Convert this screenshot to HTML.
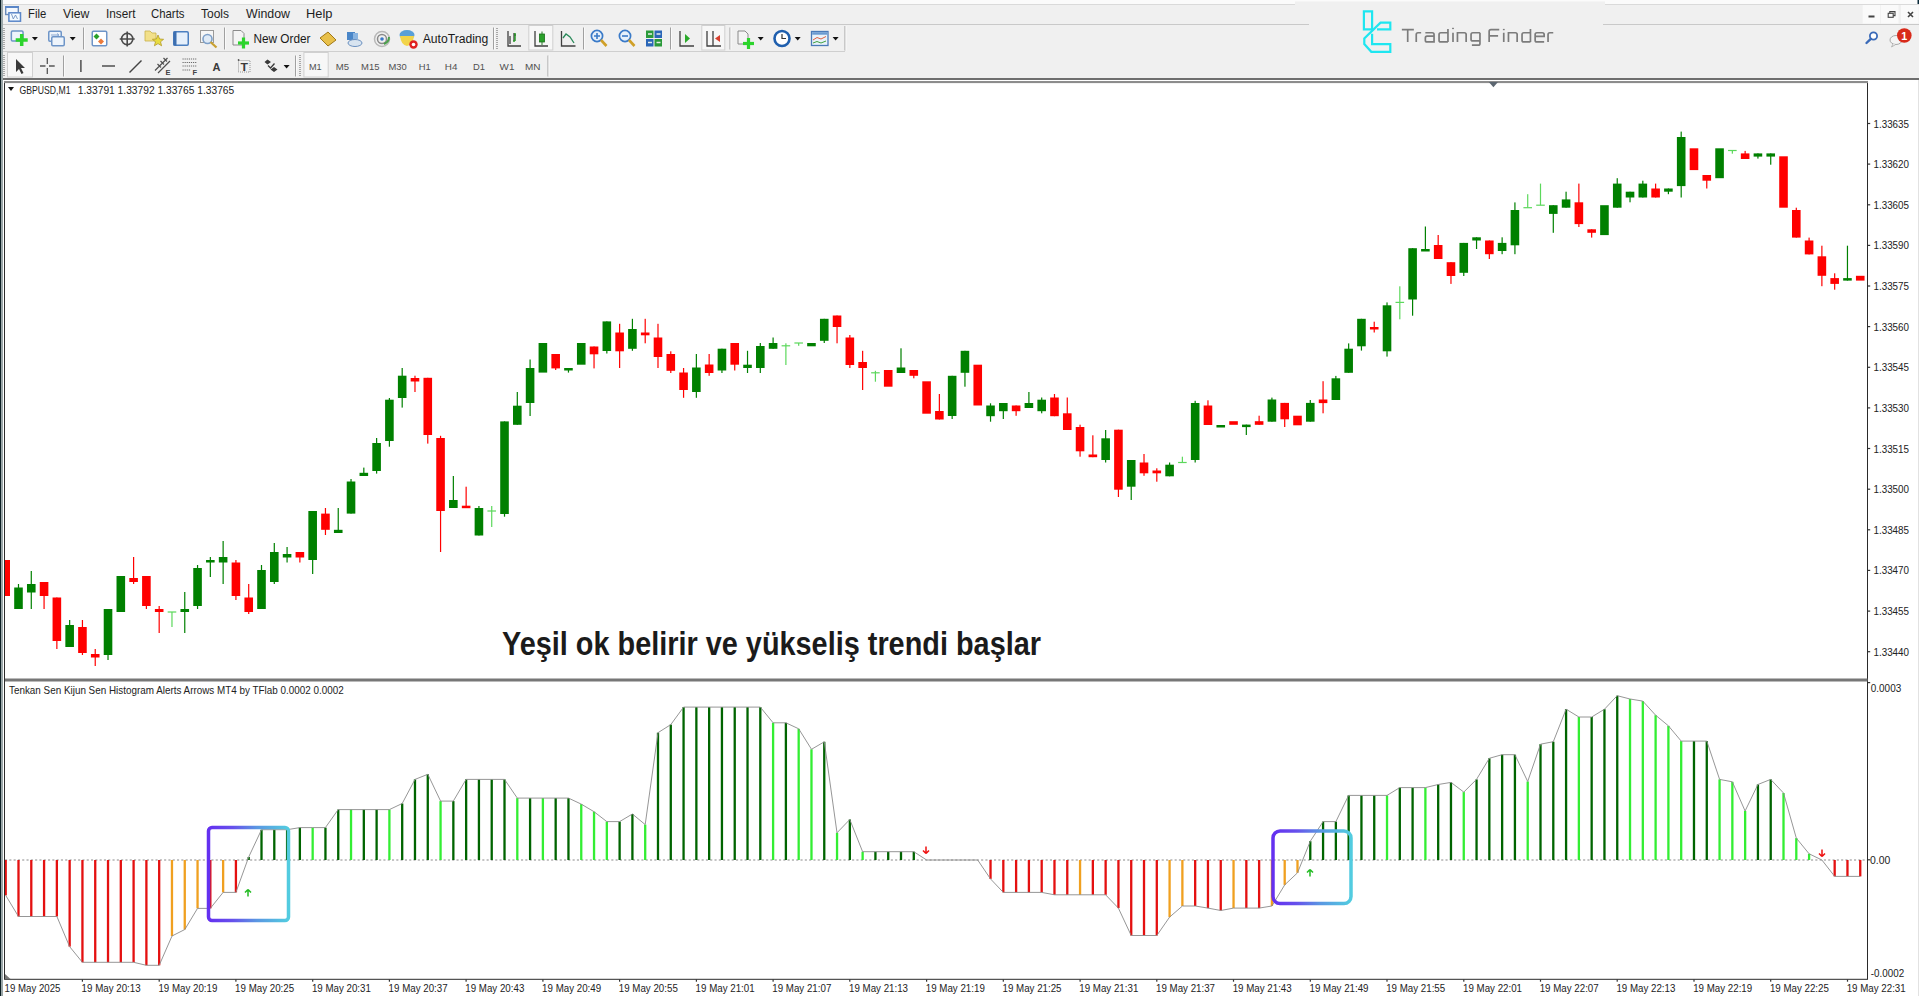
<!DOCTYPE html>
<html><head><meta charset="utf-8">
<style>
html,body{margin:0;padding:0;}
body{width:1919px;height:996px;overflow:hidden;position:relative;background:#f0f0f0;font-family:"Liberation Sans",sans-serif;}
svg text{font-family:"Liberation Sans",sans-serif;}
.ax{font-size:10.4px;fill:#222;}
.big{font-size:32.5px;font-weight:bold;fill:#1b1b1b;}
.abs{position:absolute;}
</style></head><body>
<div class="abs" style="left:0;top:0;width:1919px;height:4px;background:#fbfbfb"></div>
<div class="abs" style="left:0;top:4px;width:1919px;height:1px;background:#dadada"></div>
<div class="abs" style="left:0;top:24px;width:1308.6px;height:1px;background:#c9c9c9"></div>
<div class="abs" style="left:1603px;top:24px;width:316px;height:1px;background:#c9c9c9"></div>
<div class="abs" style="left:0;top:80px;width:1919px;height:916px;background:#ffffff"></div>
<div class="abs" style="left:1917.7px;top:80px;width:1.3px;height:916px;background:#e2e2e2"></div>
<div class="abs" style="left:0;top:51px;width:845px;height:1px;background:#cfcfcf"></div>
<div class="abs" style="left:0;top:78.4px;width:1919px;height:1.6px;background:#6e6e6e"></div>
<svg width="1919" height="80" style="position:absolute;left:0;top:0"><text x="28" y="18.3" font-size="12.6" fill="#1e1e1e" font-weight="normal" textLength="18.2" lengthAdjust="spacingAndGlyphs" style="white-space:pre">File</text>
<text x="63" y="18.3" font-size="12.6" fill="#1e1e1e" font-weight="normal" textLength="26.3" lengthAdjust="spacingAndGlyphs" style="white-space:pre">View</text>
<text x="106" y="18.3" font-size="12.6" fill="#1e1e1e" font-weight="normal" textLength="29.5" lengthAdjust="spacingAndGlyphs" style="white-space:pre">Insert</text>
<text x="151" y="18.3" font-size="12.6" fill="#1e1e1e" font-weight="normal" textLength="33.5" lengthAdjust="spacingAndGlyphs" style="white-space:pre">Charts</text>
<text x="201" y="18.3" font-size="12.6" fill="#1e1e1e" font-weight="normal" textLength="28" lengthAdjust="spacingAndGlyphs" style="white-space:pre">Tools</text>
<text x="246" y="18.3" font-size="12.6" fill="#1e1e1e" font-weight="normal" textLength="44" lengthAdjust="spacingAndGlyphs" style="white-space:pre">Window</text>
<text x="306" y="18.3" font-size="12.6" fill="#1e1e1e" font-weight="normal" textLength="26.5" lengthAdjust="spacingAndGlyphs" style="white-space:pre">Help</text>
<rect x="5.7" y="6.7" width="12.6" height="7.8" fill="#f4f8fd" stroke="#6a8ab8" stroke-width="1.4"/><rect x="5" y="6" width="14" height="2" fill="#5a86c8"/>
<rect x="8.9" y="12.8" width="11.6" height="8.4" fill="#f4fbff" stroke="#5a86c8" stroke-width="1.5"/>
<path d="M11.5 14 L13.3 19 L15.5 15 L17.5 19" stroke="#7090c0" stroke-width="0.9" fill="none"/>
<rect x="3" y="28" width="2" height="1" fill="#a8a8a8"/><rect x="3" y="30" width="2" height="1" fill="#a8a8a8"/><rect x="3" y="32" width="2" height="1" fill="#a8a8a8"/><rect x="3" y="34" width="2" height="1" fill="#a8a8a8"/><rect x="3" y="36" width="2" height="1" fill="#a8a8a8"/><rect x="3" y="38" width="2" height="1" fill="#a8a8a8"/><rect x="3" y="40" width="2" height="1" fill="#a8a8a8"/><rect x="3" y="42" width="2" height="1" fill="#a8a8a8"/><rect x="3" y="44" width="2" height="1" fill="#a8a8a8"/><rect x="3" y="46" width="2" height="1" fill="#a8a8a8"/><rect x="3" y="48" width="2" height="1" fill="#a8a8a8"/>
<rect x="11.35" y="30.95" width="11.7" height="10.1" rx="1.2" fill="#eef4fb" stroke="#6e95c8" stroke-width="1.5"/>
<rect x="19.95" y="34" width="3.5" height="12" fill="#2cd42c"/><rect x="15.7" y="38.25" width="12" height="3.5" fill="#2cd42c"/>
<path d="M31.9 37 L37.9 37 L34.9 40.5 Z" fill="#111"/>
<rect x="48.75" y="31.35" width="12.5" height="9.9" rx="1.2" fill="#eef4fb" stroke="#6e95c8" stroke-width="1.5"/>
<rect x="51.75" y="36.75" width="12.5" height="9.0" rx="1.2" fill="#eef4fb" stroke="#6e95c8" stroke-width="1.5"/>
<path d="M51 35 L58 35 M57 33.5 L59 35 L57 36.5" stroke="#6e95c8" stroke-width="0.8" fill="none"/>
<path d="M69.7 37 L75.7 37 L72.7 40.5 Z" fill="#111"/>
<rect x="83" y="27.5" width="1" height="22.0" fill="#a0a0a0"/><rect x="84" y="27.5" width="1" height="22.0" fill="#fafafa"/>
<rect x="92.25" y="31.35" width="14.5" height="14.4" rx="1.2" fill="#ffffff" stroke="#6e95c8" stroke-width="1.5"/>
<path d="M96.5 33.5 L99.5 36.5 L96.5 39.5 L93.5 36.5 Z" fill="#2aa02a"/><path d="M101 38.5 L104 41.5 L101 44.5 L98 41.5 Z" fill="#ec7a3a"/>
<circle cx="127.2" cy="39" r="5.6" fill="none" stroke="#4a4a4a" stroke-width="1.6"/><path d="M127.2 31.5 V46.5 M119.7 39 H134.7" stroke="#4a4a4a" stroke-width="1.6"/>
<path d="M145 31 H150 L152 33 H156 V41 H145 Z" fill="#f2e08a" stroke="#c9b14a" stroke-width="0.8"/>
<path d="M158 35 L159.6 39 L163.6 39.3 L160.5 41.8 L161.6 45.8 L158 43.6 L154.4 45.8 L155.5 41.8 L152.4 39.3 L156.4 39 Z" fill="#e8dc40" stroke="#b49a2a" stroke-width="0.8"/>
<rect x="173.75" y="31.75" width="14.5" height="13.5" rx="1.2" fill="#e6f0fb" stroke="#4b7fc0" stroke-width="1.5"/>
<rect x="173.5" y="31.5" width="3" height="14" fill="#3d6fb0"/>
<rect x="200.5" y="30.5" width="13" height="12" fill="#f6f6f6" stroke="#9a9a9a" stroke-width="1"/><circle cx="207.5" cy="39" r="4.5" fill="#dfeaf6" stroke="#7ea0c8" stroke-width="1.6"/><path d="M210.5 42 L216.5 47.5" stroke="#c9a030" stroke-width="2.2"/>
<rect x="224" y="27.5" width="1" height="22.0" fill="#a0a0a0"/><rect x="225" y="27.5" width="1" height="22.0" fill="#fafafa"/>
<path d="M233 30.5 H241 L244 33.5 V45 H233 Z" fill="#f4f4f4" stroke="#8a8a8a" stroke-width="1"/>
<rect x="241.9" y="37.5" width="3.2" height="11.0" fill="#2cd42c"/><rect x="238.0" y="41.4" width="11.0" height="3.2" fill="#2cd42c"/>
<text x="253.5" y="42.7" font-size="12.3" fill="#1a1a1a" font-weight="normal" textLength="57" lengthAdjust="spacingAndGlyphs" style="white-space:pre">New Order</text>
<path d="M320 38 L328 32 L336 40 L328 46 Z" fill="#e8c04a" stroke="#a07818" stroke-width="1"/>
<path d="M347 32 H355 V40 H347 Z" fill="#4a86c8"/><ellipse cx="355" cy="43" rx="7" ry="3.5" fill="#d8e4f0" stroke="#6a90c0" stroke-width="1"/><rect x="353" y="33" width="5" height="6" fill="#8ab4e0"/>
<circle cx="382" cy="39" r="7.5" fill="none" stroke="#b8b8b8" stroke-width="1.5"/><circle cx="382" cy="39" r="4.5" fill="none" stroke="#8a8a8a" stroke-width="1.5"/><circle cx="382" cy="39" r="1.8" fill="#3a78c8"/><path d="M384 44 Q389 42 389 37" stroke="#4aa04a" stroke-width="2" fill="none"/>
<ellipse cx="407" cy="35" rx="7.5" ry="5" fill="#5aa0d8"/><path d="M400 36 Q401 45 407 46 Q413 45 414 36 Z" fill="#f2d44a"/><circle cx="413.5" cy="44.5" r="4.2" fill="#e02020"/><circle cx="413.5" cy="44.5" r="1.8" fill="#fff"/>
<text x="422.7" y="42.7" font-size="12.3" fill="#1a1a1a" font-weight="normal" textLength="65.7" lengthAdjust="spacingAndGlyphs" style="white-space:pre">AutoTrading</text>
<rect x="493" y="27.5" width="1" height="22.0" fill="#a0a0a0"/><rect x="494" y="27.5" width="1" height="22.0" fill="#fafafa"/>
<rect x="496" y="28" width="2" height="1" fill="#a8a8a8"/><rect x="496" y="30" width="2" height="1" fill="#a8a8a8"/><rect x="496" y="32" width="2" height="1" fill="#a8a8a8"/><rect x="496" y="34" width="2" height="1" fill="#a8a8a8"/><rect x="496" y="36" width="2" height="1" fill="#a8a8a8"/><rect x="496" y="38" width="2" height="1" fill="#a8a8a8"/><rect x="496" y="40" width="2" height="1" fill="#a8a8a8"/><rect x="496" y="42" width="2" height="1" fill="#a8a8a8"/><rect x="496" y="44" width="2" height="1" fill="#a8a8a8"/><rect x="496" y="46" width="2" height="1" fill="#a8a8a8"/><rect x="496" y="48" width="2" height="1" fill="#a8a8a8"/>
<path d="M508 31 V46 H521 M510 44 V36 M514 41 V33 M514 35 H516" stroke="#404040" stroke-width="1.3" fill="none"/><path d="M515 33 V41 M513 41 H515" stroke="#2a9a2a" stroke-width="1.5" fill="none"/>
<rect x="528.8" y="25.5" width="24.0" height="24.5" fill="#f7f7f7" stroke="#d0d0d0" stroke-width="1"/>
<path d="M535 31 V46 H548" stroke="#404040" stroke-width="1.3" fill="none"/><rect x="539.5" y="34" width="5" height="8" fill="#2aa02a" stroke="#1a701a" stroke-width="0.8"/><path d="M542 31.5 V34 M542 42 V45" stroke="#2a7a2a" stroke-width="1"/>
<path d="M561.5 31 V46 H575.5" stroke="#404040" stroke-width="1.3" fill="none"/><path d="M563 38 L566 34 L570 37 L574 43" stroke="#2a8a5a" stroke-width="1.3" fill="none"/>
<rect x="583" y="27.5" width="1" height="22.0" fill="#a0a0a0"/><rect x="584" y="27.5" width="1" height="22.0" fill="#fafafa"/>
<circle cx="597" cy="36" r="5.6" fill="#e6f0fa" stroke="#3a7ac8" stroke-width="1.7"/><path d="M594 36 H600 M597 33 V39" stroke="#3a7ac8" stroke-width="1.6"/><path d="M601 40 L606.5 46" stroke="#d0a028" stroke-width="2.6"/>
<circle cx="625" cy="36" r="5.6" fill="#e6f0fa" stroke="#3a7ac8" stroke-width="1.7"/><path d="M622 36 H628" stroke="#3a7ac8" stroke-width="1.6"/><path d="M629 40 L634.5 46" stroke="#d0a028" stroke-width="2.6"/>
<rect x="646" y="30.5" width="7.5" height="7.5" fill="#2a9a3a"/><rect x="654.5" y="30.5" width="7.5" height="7.5" fill="#2a66b8"/><rect x="646" y="39" width="7.5" height="7.5" fill="#2a66b8"/><rect x="654.5" y="39" width="7.5" height="7.5" fill="#2a9a3a"/><path d="M648 34 H652 M656.5 34 H660.5 M648 42.5 H652 M656.5 42.5 H660.5" stroke="#e8f0e8" stroke-width="1.5"/>
<rect x="670" y="27.5" width="1" height="22.0" fill="#a0a0a0"/><rect x="671" y="27.5" width="1" height="22.0" fill="#fafafa"/>
<path d="M680 31 V46 H694" stroke="#404040" stroke-width="1.3" fill="none"/><path d="M685 34 L690 38.5 L685 43 Z" fill="#2aaa2a"/>
<rect x="701.8" y="25.5" width="23.0" height="24.5" fill="#f7f7f7" stroke="#d0d0d0" stroke-width="1"/>
<path d="M707 31 V46 H721 M713 31 V46" stroke="#404040" stroke-width="1.3" fill="none"/><path d="M720 35 L715 38.5 L720 42 Z" fill="#d84030"/>
<rect x="729.5" y="27.5" width="1" height="22.0" fill="#a0a0a0"/><rect x="730.5" y="27.5" width="1" height="22.0" fill="#fafafa"/>
<path d="M738 31 H745 L748 34 V44 H738 Z" fill="#f4f4f4" stroke="#8a8a8a" stroke-width="1"/>
<rect x="746.9" y="38.0" width="3.2" height="11.0" fill="#2cd42c"/><rect x="743.0" y="41.9" width="11.0" height="3.2" fill="#2cd42c"/>
<path d="M757.7 37 L763.7 37 L760.7 40.5 Z" fill="#111"/>
<circle cx="782" cy="38.5" r="7.5" fill="#ffffff" stroke="#1f5fae" stroke-width="2.6"/><path d="M782 34 V38.5 H786" stroke="#333" stroke-width="1.2" fill="none"/>
<path d="M794.7 37 L800.7 37 L797.7 40.5 Z" fill="#111"/>
<rect x="811.5" y="31.5" width="16.5" height="14" fill="#e8f2fa" stroke="#4a7ab8" stroke-width="1.3"/><rect x="812.2" y="32.2" width="15" height="2.5" fill="#6a9ad0"/><path d="M813 40 L817 37.5 L821 39 L826 36.5" stroke="#e06040" stroke-width="1" fill="none"/><path d="M813 43 L817 41.5 L821 43 L826 41" stroke="#40a040" stroke-width="1" fill="none"/>
<path d="M832.6 37 L838.6 37 L835.6 40.5 Z" fill="#111"/>
<rect x="844.5" y="26" width="1" height="24.5" fill="#a0a0a0"/><rect x="845.5" y="26" width="1" height="24.5" fill="#fafafa"/>
<rect x="3" y="55" width="2" height="1" fill="#a8a8a8"/><rect x="3" y="57" width="2" height="1" fill="#a8a8a8"/><rect x="3" y="59" width="2" height="1" fill="#a8a8a8"/><rect x="3" y="61" width="2" height="1" fill="#a8a8a8"/><rect x="3" y="63" width="2" height="1" fill="#a8a8a8"/><rect x="3" y="65" width="2" height="1" fill="#a8a8a8"/><rect x="3" y="67" width="2" height="1" fill="#a8a8a8"/><rect x="3" y="69" width="2" height="1" fill="#a8a8a8"/><rect x="3" y="71" width="2" height="1" fill="#a8a8a8"/><rect x="3" y="73" width="2" height="1" fill="#a8a8a8"/><rect x="3" y="75" width="2" height="1" fill="#a8a8a8"/>
<rect x="7.5" y="52.5" width="25" height="24.5" fill="#f7f7f7" stroke="#d0d0d0" stroke-width="1"/>
<path d="M16 59 L16 72 L19 69 L21.5 74 L23.5 73 L21 68 L25 68 Z" fill="#3a3a3a"/>
<path d="M47.3 58 V64 M47.3 68 V74 M40 66 H45.5 M49 66 H54.7" stroke="#555" stroke-width="1.3"/>
<rect x="63" y="55.5" width="1" height="21.0" fill="#a0a0a0"/><rect x="64" y="55.5" width="1" height="21.0" fill="#fafafa"/>
<rect x="80.2" y="60" width="1.4" height="12" fill="#444"/>
<rect x="102" y="65.3" width="13" height="1.4" fill="#444"/>
<path d="M129.5 72.5 L141.5 60.5" stroke="#444" stroke-width="1.4"/>
<path d="M155 70.5 L167.5 58 M158 73 L170 61 M157.5 64 L161 67.5 M160.5 61 L164 64.5 M163.5 58 L167 61.5" stroke="#505050" stroke-width="1.2" fill="none"/>
<text x="165.5" y="75" font-size="7.5" font-weight="bold" fill="#444">E</text>
<path d="M182.5 59 H196.5 M182.5 62.5 H196.5 M182.5 66 H196.5 M182.5 70 H191" stroke="#6a6a6a" stroke-width="1" stroke-dasharray="1.2 0.9" fill="none"/>
<text x="192.5" y="75" font-size="7.5" font-weight="bold" fill="#444">F</text>
<text x="212.6" y="70.8" font-size="11.5" fill="#3a3a3a" font-weight="bold" textLength="8" lengthAdjust="spacingAndGlyphs" style="white-space:pre">A</text>
<rect x="238.5" y="60.5" width="11.5" height="11.5" fill="none" stroke="#8a8a8a" stroke-width="0.9" stroke-dasharray="1 1"/><circle cx="238.6" cy="60" r="0.9" fill="#555"/>
<text x="240.6" y="70.8" font-size="10.5" fill="#3a3a3a" font-weight="bold" textLength="7.5" lengthAdjust="spacingAndGlyphs" style="white-space:pre">T</text>
<path d="M264.5 62 L267.5 59.5 L271 62 L267.5 64.5 Z M270.5 69.5 L274 67 L277.5 69.5 L274 72 Z" fill="#3a3a3a"/><path d="M268 65.5 L270.5 68 L274.5 63.5" stroke="#3a3a3a" stroke-width="1.3" fill="none"/>
<path d="M283.6 65 L289.6 65 L286.6 68.5 Z" fill="#111"/>
<rect x="295" y="55.5" width="1" height="21.0" fill="#a0a0a0"/><rect x="296" y="55.5" width="1" height="21.0" fill="#fafafa"/>
<rect x="299" y="55" width="2" height="1" fill="#a8a8a8"/><rect x="299" y="57" width="2" height="1" fill="#a8a8a8"/><rect x="299" y="59" width="2" height="1" fill="#a8a8a8"/><rect x="299" y="61" width="2" height="1" fill="#a8a8a8"/><rect x="299" y="63" width="2" height="1" fill="#a8a8a8"/><rect x="299" y="65" width="2" height="1" fill="#a8a8a8"/><rect x="299" y="67" width="2" height="1" fill="#a8a8a8"/><rect x="299" y="69" width="2" height="1" fill="#a8a8a8"/><rect x="299" y="71" width="2" height="1" fill="#a8a8a8"/><rect x="299" y="73" width="2" height="1" fill="#a8a8a8"/><rect x="299" y="75" width="2" height="1" fill="#a8a8a8"/>
<rect x="303.9" y="52.5" width="24.30000000000001" height="24.5" fill="#f7f7f7" stroke="#d0d0d0" stroke-width="1"/>
<text x="309" y="69.8" font-size="9.8" fill="#505050" font-weight="normal" textLength="12.7" lengthAdjust="spacingAndGlyphs" style="white-space:pre">M1</text>
<text x="335.7" y="69.8" font-size="9.8" fill="#505050" font-weight="normal" textLength="13.3" lengthAdjust="spacingAndGlyphs" style="white-space:pre">M5</text>
<text x="361" y="69.8" font-size="9.8" fill="#505050" font-weight="normal" textLength="18.4" lengthAdjust="spacingAndGlyphs" style="white-space:pre">M15</text>
<text x="388.5" y="69.8" font-size="9.8" fill="#505050" font-weight="normal" textLength="18.3" lengthAdjust="spacingAndGlyphs" style="white-space:pre">M30</text>
<text x="418.7" y="69.8" font-size="9.8" fill="#505050" font-weight="normal" textLength="12" lengthAdjust="spacingAndGlyphs" style="white-space:pre">H1</text>
<text x="444.8" y="69.8" font-size="9.8" fill="#505050" font-weight="normal" textLength="12.6" lengthAdjust="spacingAndGlyphs" style="white-space:pre">H4</text>
<text x="473" y="69.8" font-size="9.8" fill="#505050" font-weight="normal" textLength="12" lengthAdjust="spacingAndGlyphs" style="white-space:pre">D1</text>
<text x="499.6" y="69.8" font-size="9.8" fill="#505050" font-weight="normal" textLength="14.8" lengthAdjust="spacingAndGlyphs" style="white-space:pre">W1</text>
<text x="525" y="69.8" font-size="9.8" fill="#505050" font-weight="normal" textLength="15.5" lengthAdjust="spacingAndGlyphs" style="white-space:pre">MN</text>
<rect x="547.5" y="55.5" width="1" height="21.0" fill="#a0a0a0"/><rect x="548.5" y="55.5" width="1" height="21.0" fill="#fafafa"/>
<rect x="1862.7" y="5" width="17.5" height="18.5" fill="#fafafa"/>
<rect x="1881" y="5" width="17.5" height="18.5" fill="#fafafa"/>
<rect x="1901" y="5" width="17.5" height="18.5" fill="#fafafa"/>
<rect x="1868.5" y="15.5" width="6" height="2" fill="#444"/>
<rect x="1888.2" y="13.3" width="5" height="4" fill="none" stroke="#444" stroke-width="1.1"/><path d="M1889.8 13.3 V11.6 H1895 V15.6 H1893.2" stroke="#444" stroke-width="1.1" fill="none"/>
<path d="M1908 12 L1913 17 M1913 12 L1908 17" stroke="#444" stroke-width="1.6"/>
<rect x="1917.5" y="0" width="1.5" height="4" fill="#0a2a3a"/>
<circle cx="1873.5" cy="36" r="3.6" fill="#fff" stroke="#3a6ab8" stroke-width="1.8"/><path d="M1870.8 38.8 L1866.5 43" stroke="#3a6ab8" stroke-width="2.4" stroke-linecap="round"/>
<ellipse cx="1896" cy="40" rx="6" ry="4.5" fill="#f4f4f4" stroke="#a8a8a8" stroke-width="1"/><path d="M1893 44 L1891.5 47 L1896 44.3" fill="#f4f4f4" stroke="#a8a8a8" stroke-width="0.8"/>
<circle cx="1904.3" cy="35.5" r="7.3" fill="#d82a1a"/>
<text x="1901.2" y="40.2" font-size="10.5" fill="#ffffff" font-weight="bold" textLength="6" lengthAdjust="spacingAndGlyphs" style="white-space:pre">1</text><rect x="1295" y="1.5" width="310" height="3.6" fill="#f0f0f0"/>
<path d="M1363.9 11.4 H1372.1 V29.3 H1363.9 Z" fill="none" stroke="#1ee6f0" stroke-width="2.2"/>
<path d="M1372.1 33.7 V44.2 H1390.3 V51.8 H1371.3 L1364.3 44 V38.5 L1380.5 22.7 H1390.3 V29.3 H1377" fill="none" stroke="#1ee6f0" stroke-width="2.2" stroke-linejoin="miter"/>
<path d="M1401.85 29.55 H1413.85 M1407.7 29.55 V41.95 M1416.25 41.95 V34.5 Q1416.25 32.75 1418 32.75 H1421.15 M1425.35 32.75 H1432.3 Q1434.05 32.75 1434.05 34.5 V41.95 H1427.1 Q1425.35 41.95 1425.35 40.2 V37.9 Q1425.35 36.15 1427.1 36.15 H1434.05 M1447.95 32.75 H1440.8 Q1439.05 32.75 1439.05 34.5 V40.2 Q1439.05 41.95 1440.8 41.95 H1447.95 M1447.95 29.05 V41.95 M1453 32.75 V41.95 M1457.45 41.95 V32.75 H1464.4 Q1466.15 32.75 1466.15 34.5 V41.95 M1479.95 32.75 H1472.8 Q1471.05 32.75 1471.05 34.5 V39.2 Q1471.05 40.95 1472.8 40.95 H1479.95 M1479.95 32.75 V43.4 Q1479.95 45.15 1478.2 45.15 H1471.9 M1489.15 41.95 V31.3 Q1489.15 29.55 1490.9 29.55 H1499.25 M1489.15 35.85 H1498.1 M1503.75 32.75 V41.95 M1508.45 41.95 V32.75 H1515.4 Q1517.15 32.75 1517.15 34.5 V41.95 M1530.45 32.75 H1523.8 Q1522.05 32.75 1522.05 34.5 V40.2 Q1522.05 41.95 1523.8 41.95 H1530.45 M1530.45 29.05 V41.95 M1544.15 41.95 H1536.9 Q1535.15 41.95 1535.15 40.2 V34.5 Q1535.15 32.75 1536.9 32.75 H1542.4 Q1544.15 32.75 1544.15 34.5 V36.4 H1535.15 M1548.05 41.95 V34.5 Q1548.05 32.75 1549.8 32.75 H1553.25" fill="none" stroke="#7c7c7c" stroke-width="1.7"/>
<rect x="1452.1" y="27.8" width="1.8" height="1.3" fill="#7c7c7c"/><rect x="1502.9" y="28.9" width="1.8" height="1.3" fill="#7c7c7c"/></svg>
<svg width="1919" height="996" viewBox="0 0 1919 996" style="position:absolute;left:0;top:0">
<defs>
<linearGradient id="bx1" x1="0" y1="0" x2="1" y2="0">
<stop offset="0" stop-color="#6430f0"/><stop offset="0.3" stop-color="#6650ec"/><stop offset="0.6" stop-color="#5a96e2"/><stop offset="1" stop-color="#52cce0"/>
</linearGradient>
<clipPath id="cmain"><rect x="5" y="83" width="1862" height="595.5"/></clipPath>
<clipPath id="cind"><rect x="5" y="681.6" width="1862" height="297"/></clipPath>
</defs>
<!-- chart frame -->
<rect x="4.5" y="82" width="1863" height="897.3" fill="#fff" stroke="#2a2a2a" stroke-width="1"/>
<rect x="4" y="81.2" width="1864" height="1.9" fill="#8c8c8c"/>
<rect x="5" y="678.5" width="1862.5" height="3" fill="#777777"/>
<path d="M1488.8 82 L1498 82 L1493.4 87.3 Z" fill="#5c6670"/>
<path d="M5 974 L5 979 L10.5 979 Z" fill="#777"/>
<rect x="1868" y="122.9" width="2.2" height="1.2" fill="#333"/>
<text x="1873.5" y="127.5" class="ax" textLength="35.5" lengthAdjust="spacingAndGlyphs">1.33635</text>
<rect x="1868" y="163.5" width="2.2" height="1.2" fill="#333"/>
<text x="1873.5" y="168.1" class="ax" textLength="35.5" lengthAdjust="spacingAndGlyphs">1.33620</text>
<rect x="1868" y="204.2" width="2.2" height="1.2" fill="#333"/>
<text x="1873.5" y="208.8" class="ax" textLength="35.5" lengthAdjust="spacingAndGlyphs">1.33605</text>
<rect x="1868" y="244.8" width="2.2" height="1.2" fill="#333"/>
<text x="1873.5" y="249.4" class="ax" textLength="35.5" lengthAdjust="spacingAndGlyphs">1.33590</text>
<rect x="1868" y="285.4" width="2.2" height="1.2" fill="#333"/>
<text x="1873.5" y="290.0" class="ax" textLength="35.5" lengthAdjust="spacingAndGlyphs">1.33575</text>
<rect x="1868" y="326.0" width="2.2" height="1.2" fill="#333"/>
<text x="1873.5" y="330.6" class="ax" textLength="35.5" lengthAdjust="spacingAndGlyphs">1.33560</text>
<rect x="1868" y="366.7" width="2.2" height="1.2" fill="#333"/>
<text x="1873.5" y="371.3" class="ax" textLength="35.5" lengthAdjust="spacingAndGlyphs">1.33545</text>
<rect x="1868" y="407.3" width="2.2" height="1.2" fill="#333"/>
<text x="1873.5" y="411.9" class="ax" textLength="35.5" lengthAdjust="spacingAndGlyphs">1.33530</text>
<rect x="1868" y="447.9" width="2.2" height="1.2" fill="#333"/>
<text x="1873.5" y="452.5" class="ax" textLength="35.5" lengthAdjust="spacingAndGlyphs">1.33515</text>
<rect x="1868" y="488.6" width="2.2" height="1.2" fill="#333"/>
<text x="1873.5" y="493.2" class="ax" textLength="35.5" lengthAdjust="spacingAndGlyphs">1.33500</text>
<rect x="1868" y="529.2" width="2.2" height="1.2" fill="#333"/>
<text x="1873.5" y="533.8" class="ax" textLength="35.5" lengthAdjust="spacingAndGlyphs">1.33485</text>
<rect x="1868" y="569.8" width="2.2" height="1.2" fill="#333"/>
<text x="1873.5" y="574.4" class="ax" textLength="35.5" lengthAdjust="spacingAndGlyphs">1.33470</text>
<rect x="1868" y="610.5" width="2.2" height="1.2" fill="#333"/>
<text x="1873.5" y="615.1" class="ax" textLength="35.5" lengthAdjust="spacingAndGlyphs">1.33455</text>
<rect x="1868" y="651.1" width="2.2" height="1.2" fill="#333"/>
<text x="1873.5" y="655.7" class="ax" textLength="35.5" lengthAdjust="spacingAndGlyphs">1.33440</text>
<text x="4.6" y="991.8" class="ax" textLength="55.8" lengthAdjust="spacingAndGlyphs">19 May 2025</text>
<rect x="81.8" y="979.5" width="1.2" height="2.2" fill="#333"/>
<text x="81.6" y="991.8" class="ax" textLength="59" lengthAdjust="spacingAndGlyphs">19 May 20:13</text>
<rect x="158.6" y="979.5" width="1.2" height="2.2" fill="#333"/>
<text x="158.4" y="991.8" class="ax" textLength="59" lengthAdjust="spacingAndGlyphs">19 May 20:19</text>
<rect x="235.3" y="979.5" width="1.2" height="2.2" fill="#333"/>
<text x="235.1" y="991.8" class="ax" textLength="59" lengthAdjust="spacingAndGlyphs">19 May 20:25</text>
<rect x="312.1" y="979.5" width="1.2" height="2.2" fill="#333"/>
<text x="311.9" y="991.8" class="ax" textLength="59" lengthAdjust="spacingAndGlyphs">19 May 20:31</text>
<rect x="388.8" y="979.5" width="1.2" height="2.2" fill="#333"/>
<text x="388.6" y="991.8" class="ax" textLength="59" lengthAdjust="spacingAndGlyphs">19 May 20:37</text>
<rect x="465.5" y="979.5" width="1.2" height="2.2" fill="#333"/>
<text x="465.3" y="991.8" class="ax" textLength="59" lengthAdjust="spacingAndGlyphs">19 May 20:43</text>
<rect x="542.3" y="979.5" width="1.2" height="2.2" fill="#333"/>
<text x="542.1" y="991.8" class="ax" textLength="59" lengthAdjust="spacingAndGlyphs">19 May 20:49</text>
<rect x="619.0" y="979.5" width="1.2" height="2.2" fill="#333"/>
<text x="618.8" y="991.8" class="ax" textLength="59" lengthAdjust="spacingAndGlyphs">19 May 20:55</text>
<rect x="695.8" y="979.5" width="1.2" height="2.2" fill="#333"/>
<text x="695.6" y="991.8" class="ax" textLength="59" lengthAdjust="spacingAndGlyphs">19 May 21:01</text>
<rect x="772.5" y="979.5" width="1.2" height="2.2" fill="#333"/>
<text x="772.3" y="991.8" class="ax" textLength="59" lengthAdjust="spacingAndGlyphs">19 May 21:07</text>
<rect x="849.2" y="979.5" width="1.2" height="2.2" fill="#333"/>
<text x="849.0" y="991.8" class="ax" textLength="59" lengthAdjust="spacingAndGlyphs">19 May 21:13</text>
<rect x="926.0" y="979.5" width="1.2" height="2.2" fill="#333"/>
<text x="925.8" y="991.8" class="ax" textLength="59" lengthAdjust="spacingAndGlyphs">19 May 21:19</text>
<rect x="1002.7" y="979.5" width="1.2" height="2.2" fill="#333"/>
<text x="1002.5" y="991.8" class="ax" textLength="59" lengthAdjust="spacingAndGlyphs">19 May 21:25</text>
<rect x="1079.5" y="979.5" width="1.2" height="2.2" fill="#333"/>
<text x="1079.3" y="991.8" class="ax" textLength="59" lengthAdjust="spacingAndGlyphs">19 May 21:31</text>
<rect x="1156.2" y="979.5" width="1.2" height="2.2" fill="#333"/>
<text x="1156.0" y="991.8" class="ax" textLength="59" lengthAdjust="spacingAndGlyphs">19 May 21:37</text>
<rect x="1232.9" y="979.5" width="1.2" height="2.2" fill="#333"/>
<text x="1232.7" y="991.8" class="ax" textLength="59" lengthAdjust="spacingAndGlyphs">19 May 21:43</text>
<rect x="1309.7" y="979.5" width="1.2" height="2.2" fill="#333"/>
<text x="1309.5" y="991.8" class="ax" textLength="59" lengthAdjust="spacingAndGlyphs">19 May 21:49</text>
<rect x="1386.4" y="979.5" width="1.2" height="2.2" fill="#333"/>
<text x="1386.2" y="991.8" class="ax" textLength="59" lengthAdjust="spacingAndGlyphs">19 May 21:55</text>
<rect x="1463.2" y="979.5" width="1.2" height="2.2" fill="#333"/>
<text x="1463.0" y="991.8" class="ax" textLength="59" lengthAdjust="spacingAndGlyphs">19 May 22:01</text>
<rect x="1539.9" y="979.5" width="1.2" height="2.2" fill="#333"/>
<text x="1539.7" y="991.8" class="ax" textLength="59" lengthAdjust="spacingAndGlyphs">19 May 22:07</text>
<rect x="1616.6" y="979.5" width="1.2" height="2.2" fill="#333"/>
<text x="1616.4" y="991.8" class="ax" textLength="59" lengthAdjust="spacingAndGlyphs">19 May 22:13</text>
<rect x="1693.4" y="979.5" width="1.2" height="2.2" fill="#333"/>
<text x="1693.2" y="991.8" class="ax" textLength="59" lengthAdjust="spacingAndGlyphs">19 May 22:19</text>
<rect x="1770.1" y="979.5" width="1.2" height="2.2" fill="#333"/>
<text x="1769.9" y="991.8" class="ax" textLength="59" lengthAdjust="spacingAndGlyphs">19 May 22:25</text>
<rect x="1846.9" y="979.5" width="1.2" height="2.2" fill="#333"/>
<text x="1846.7" y="991.8" class="ax" textLength="59" lengthAdjust="spacingAndGlyphs">19 May 22:31</text>
<text x="1870.8" y="692" class="ax" textLength="30.4" lengthAdjust="spacingAndGlyphs">0.0003</text>
<text x="1870" y="863.7" class="ax" textLength="20.3" lengthAdjust="spacingAndGlyphs">0.00</text>
<text x="1870.8" y="976.5" class="ax" textLength="33.3" lengthAdjust="spacingAndGlyphs">-0.0002</text>
<rect x="1868" y="859.2" width="2.2" height="1.2" fill="#333"/>
<rect x="1868" y="682" width="2.2" height="1.2" fill="#333"/>
<!-- candles -->
<g clip-path="url(#cmain)"><rect x="1.40" y="560.0" width="8.6" height="36.0" fill="#ff0000"/>
<rect x="17.89" y="584.0" width="1.2" height="25.0" fill="#008000"/>
<rect x="14.19" y="587.5" width="8.6" height="21.5" fill="#008000"/>
<rect x="30.68" y="571.0" width="1.2" height="38.0" fill="#008000"/>
<rect x="26.98" y="584.0" width="8.6" height="8.5" fill="#008000"/>
<rect x="43.47" y="582.0" width="1.2" height="27.0" fill="#ff0000"/>
<rect x="39.77" y="582.0" width="8.6" height="14.0" fill="#ff0000"/>
<rect x="56.26" y="597.5" width="1.2" height="51.5" fill="#ff0000"/>
<rect x="52.56" y="597.5" width="8.6" height="43.5" fill="#ff0000"/>
<rect x="69.05" y="620.0" width="1.2" height="27.0" fill="#008000"/>
<rect x="65.35" y="625.0" width="8.6" height="22.0" fill="#008000"/>
<rect x="81.84" y="620.0" width="1.2" height="35.0" fill="#ff0000"/>
<rect x="78.14" y="627.0" width="8.6" height="26.0" fill="#ff0000"/>
<rect x="94.63" y="649.0" width="1.2" height="17.0" fill="#ff0000"/>
<rect x="90.93" y="654.0" width="8.6" height="3.5" fill="#ff0000"/>
<rect x="107.42" y="609.0" width="1.2" height="51.0" fill="#008000"/>
<rect x="103.72" y="609.0" width="8.6" height="46.0" fill="#008000"/>
<rect x="116.51" y="576.0" width="8.6" height="36.0" fill="#008000"/>
<rect x="133.00" y="557.0" width="1.2" height="27.0" fill="#ff0000"/>
<rect x="129.30" y="578.0" width="8.6" height="4.0" fill="#ff0000"/>
<rect x="145.79" y="576.0" width="1.2" height="33.0" fill="#ff0000"/>
<rect x="142.09" y="576.0" width="8.6" height="30.0" fill="#ff0000"/>
<rect x="158.58" y="606.0" width="1.2" height="27.0" fill="#ff0000"/>
<rect x="154.88" y="609.0" width="8.6" height="3.0" fill="#ff0000"/>
<rect x="171.37" y="612.0" width="1.2" height="15.0" fill="#5cd85c"/>
<rect x="167.67" y="611.4" width="8.6" height="1.2" fill="#5cd85c"/>
<rect x="184.16" y="592.0" width="1.2" height="41.0" fill="#008000"/>
<rect x="180.46" y="609.0" width="8.6" height="3.0" fill="#008000"/>
<rect x="196.95" y="565.0" width="1.2" height="44.0" fill="#008000"/>
<rect x="193.25" y="568.0" width="8.6" height="38.0" fill="#008000"/>
<rect x="209.74" y="557.0" width="1.2" height="20.0" fill="#008000"/>
<rect x="206.04" y="560.0" width="8.6" height="2.5" fill="#008000"/>
<rect x="222.53" y="541.0" width="1.2" height="43.0" fill="#008000"/>
<rect x="218.83" y="557.0" width="8.6" height="5.5" fill="#008000"/>
<rect x="235.32" y="560.0" width="1.2" height="40.0" fill="#ff0000"/>
<rect x="231.62" y="562.5" width="8.6" height="33.5" fill="#ff0000"/>
<rect x="248.11" y="584.0" width="1.2" height="30.0" fill="#ff0000"/>
<rect x="244.41" y="597.5" width="8.6" height="14.5" fill="#ff0000"/>
<rect x="260.90" y="565.0" width="1.2" height="44.0" fill="#008000"/>
<rect x="257.20" y="570.0" width="8.6" height="39.0" fill="#008000"/>
<rect x="273.69" y="543.0" width="1.2" height="41.0" fill="#008000"/>
<rect x="269.99" y="552.0" width="8.6" height="30.0" fill="#008000"/>
<rect x="286.48" y="547.0" width="1.2" height="15.5" fill="#008000"/>
<rect x="282.78" y="554.0" width="8.6" height="3.5" fill="#008000"/>
<rect x="299.27" y="552.0" width="1.2" height="10.5" fill="#ff0000"/>
<rect x="295.57" y="552.0" width="8.6" height="5.5" fill="#ff0000"/>
<rect x="312.06" y="511.0" width="1.2" height="63.0" fill="#008000"/>
<rect x="308.36" y="511.0" width="8.6" height="49.0" fill="#008000"/>
<rect x="324.85" y="508.0" width="1.2" height="27.0" fill="#ff0000"/>
<rect x="321.15" y="513.6" width="8.6" height="16.2" fill="#ff0000"/>
<rect x="337.64" y="508.0" width="1.2" height="25.0" fill="#008000"/>
<rect x="333.94" y="529.8" width="8.6" height="3.2" fill="#008000"/>
<rect x="350.43" y="479.0" width="1.2" height="34.6" fill="#008000"/>
<rect x="346.73" y="481.5" width="8.6" height="32.1" fill="#008000"/>
<rect x="363.22" y="467.6" width="1.2" height="8.4" fill="#008000"/>
<rect x="359.52" y="472.8" width="8.6" height="3.2" fill="#008000"/>
<rect x="376.01" y="438.0" width="1.2" height="35.6" fill="#008000"/>
<rect x="372.31" y="443.0" width="8.6" height="28.0" fill="#008000"/>
<rect x="388.80" y="398.0" width="1.2" height="48.7" fill="#008000"/>
<rect x="385.10" y="399.7" width="8.6" height="41.3" fill="#008000"/>
<rect x="401.59" y="368.0" width="1.2" height="39.6" fill="#008000"/>
<rect x="397.89" y="375.7" width="8.6" height="22.3" fill="#008000"/>
<rect x="414.38" y="375.7" width="1.2" height="16.3" fill="#ff0000"/>
<rect x="410.68" y="378.0" width="8.6" height="3.5" fill="#ff0000"/>
<rect x="427.17" y="377.8" width="1.2" height="65.8" fill="#ff0000"/>
<rect x="423.47" y="377.8" width="8.6" height="57.2" fill="#ff0000"/>
<rect x="439.96" y="435.8" width="1.2" height="116.2" fill="#ff0000"/>
<rect x="436.26" y="438.0" width="8.6" height="73.0" fill="#ff0000"/>
<rect x="452.75" y="476.0" width="1.2" height="32.0" fill="#008000"/>
<rect x="449.05" y="500.0" width="8.6" height="8.0" fill="#008000"/>
<rect x="465.54" y="486.7" width="1.2" height="21.3" fill="#ff0000"/>
<rect x="461.84" y="505.7" width="8.6" height="2.5" fill="#ff0000"/>
<rect x="478.33" y="506.0" width="1.2" height="29.5" fill="#008000"/>
<rect x="474.63" y="508.0" width="8.6" height="27.5" fill="#008000"/>
<rect x="491.12" y="506.0" width="1.2" height="21.0" fill="#5cd85c"/>
<rect x="487.42" y="510.4" width="8.6" height="1.2" fill="#5cd85c"/>
<rect x="503.91" y="421.4" width="1.2" height="95.3" fill="#008000"/>
<rect x="500.21" y="421.4" width="8.6" height="92.6" fill="#008000"/>
<rect x="516.70" y="392.0" width="1.2" height="32.8" fill="#008000"/>
<rect x="513.00" y="405.7" width="8.6" height="19.1" fill="#008000"/>
<rect x="529.49" y="359.5" width="1.2" height="56.5" fill="#008000"/>
<rect x="525.79" y="368.0" width="8.6" height="35.0" fill="#008000"/>
<rect x="538.58" y="343.0" width="8.6" height="29.6" fill="#008000"/>
<rect x="555.07" y="354.0" width="1.2" height="16.0" fill="#ff0000"/>
<rect x="551.37" y="354.0" width="8.6" height="14.4" fill="#ff0000"/>
<rect x="567.86" y="368.0" width="1.2" height="4.6" fill="#008000"/>
<rect x="564.16" y="368.0" width="8.6" height="2.5" fill="#008000"/>
<rect x="576.95" y="343.0" width="8.6" height="21.7" fill="#008000"/>
<rect x="593.44" y="346.5" width="1.2" height="21.9" fill="#ff0000"/>
<rect x="589.74" y="346.5" width="8.6" height="7.8" fill="#ff0000"/>
<rect x="606.23" y="321.4" width="1.2" height="32.1" fill="#008000"/>
<rect x="602.53" y="321.4" width="8.6" height="29.6" fill="#008000"/>
<rect x="619.02" y="323.8" width="1.2" height="44.2" fill="#ff0000"/>
<rect x="615.32" y="332.5" width="8.6" height="18.8" fill="#ff0000"/>
<rect x="631.81" y="318.8" width="1.2" height="32.0" fill="#008000"/>
<rect x="628.11" y="329.0" width="8.6" height="19.8" fill="#008000"/>
<rect x="644.60" y="318.8" width="1.2" height="24.5" fill="#ff0000"/>
<rect x="640.90" y="332.5" width="8.6" height="2.8" fill="#ff0000"/>
<rect x="657.39" y="323.8" width="1.2" height="44.2" fill="#ff0000"/>
<rect x="653.69" y="337.5" width="8.6" height="19.5" fill="#ff0000"/>
<rect x="670.18" y="351.3" width="1.2" height="21.7" fill="#ff0000"/>
<rect x="666.48" y="354.0" width="8.6" height="16.8" fill="#ff0000"/>
<rect x="682.97" y="368.0" width="1.2" height="29.8" fill="#ff0000"/>
<rect x="679.27" y="372.5" width="8.6" height="17.5" fill="#ff0000"/>
<rect x="695.76" y="354.0" width="1.2" height="43.8" fill="#008000"/>
<rect x="692.06" y="367.5" width="8.6" height="24.5" fill="#008000"/>
<rect x="708.55" y="354.0" width="1.2" height="21.8" fill="#ff0000"/>
<rect x="704.85" y="364.5" width="8.6" height="8.5" fill="#ff0000"/>
<rect x="721.34" y="348.7" width="1.2" height="24.3" fill="#008000"/>
<rect x="717.64" y="348.7" width="8.6" height="21.8" fill="#008000"/>
<rect x="734.13" y="343.0" width="1.2" height="27.5" fill="#ff0000"/>
<rect x="730.43" y="343.0" width="8.6" height="21.7" fill="#ff0000"/>
<rect x="746.92" y="350.8" width="1.2" height="22.2" fill="#008000"/>
<rect x="743.22" y="364.7" width="8.6" height="3.3" fill="#008000"/>
<rect x="759.71" y="343.0" width="1.2" height="30.0" fill="#008000"/>
<rect x="756.01" y="346.0" width="8.6" height="22.0" fill="#008000"/>
<rect x="772.50" y="337.5" width="1.2" height="11.3" fill="#008000"/>
<rect x="768.80" y="343.0" width="8.6" height="5.8" fill="#008000"/>
<rect x="785.29" y="343.3" width="1.2" height="21.7" fill="#5cd85c"/>
<rect x="781.59" y="345.2" width="8.6" height="1.2" fill="#5cd85c"/>
<rect x="798.08" y="343.0" width="1.2" height="2.8" fill="#5cd85c"/>
<rect x="794.38" y="342.4" width="8.6" height="1.2" fill="#5cd85c"/>
<rect x="807.17" y="343.0" width="8.6" height="3.3" fill="#008000"/>
<rect x="823.66" y="318.8" width="1.2" height="24.2" fill="#008000"/>
<rect x="819.96" y="318.8" width="8.6" height="22.0" fill="#008000"/>
<rect x="836.45" y="315.5" width="1.2" height="27.8" fill="#ff0000"/>
<rect x="832.75" y="315.5" width="8.6" height="11.5" fill="#ff0000"/>
<rect x="849.24" y="335.0" width="1.2" height="33.0" fill="#ff0000"/>
<rect x="845.54" y="337.5" width="8.6" height="27.5" fill="#ff0000"/>
<rect x="862.03" y="350.8" width="1.2" height="39.2" fill="#ff0000"/>
<rect x="858.33" y="362.0" width="8.6" height="6.0" fill="#ff0000"/>
<rect x="874.82" y="370.8" width="1.2" height="10.9" fill="#5cd85c"/>
<rect x="871.12" y="372.2" width="8.6" height="1.2" fill="#5cd85c"/>
<rect x="883.91" y="370.0" width="8.6" height="16.7" fill="#ff0000"/>
<rect x="900.40" y="348.3" width="1.2" height="24.7" fill="#008000"/>
<rect x="896.70" y="367.5" width="8.6" height="5.5" fill="#008000"/>
<rect x="913.19" y="370.0" width="1.2" height="8.3" fill="#ff0000"/>
<rect x="909.49" y="370.0" width="8.6" height="5.8" fill="#ff0000"/>
<rect x="922.28" y="381.3" width="8.6" height="32.4" fill="#ff0000"/>
<rect x="938.77" y="394.0" width="1.2" height="25.5" fill="#ff0000"/>
<rect x="935.07" y="411.0" width="8.6" height="8.5" fill="#ff0000"/>
<rect x="951.56" y="375.8" width="1.2" height="43.2" fill="#008000"/>
<rect x="947.86" y="375.8" width="8.6" height="40.2" fill="#008000"/>
<rect x="964.35" y="350.8" width="1.2" height="35.9" fill="#008000"/>
<rect x="960.65" y="350.8" width="8.6" height="22.0" fill="#008000"/>
<rect x="973.44" y="364.7" width="8.6" height="40.8" fill="#ff0000"/>
<rect x="989.93" y="403.3" width="1.2" height="18.4" fill="#008000"/>
<rect x="986.23" y="405.5" width="8.6" height="10.7" fill="#008000"/>
<rect x="1002.72" y="403.0" width="1.2" height="16.0" fill="#008000"/>
<rect x="999.02" y="403.0" width="8.6" height="8.2" fill="#008000"/>
<rect x="1015.51" y="405.5" width="1.2" height="10.3" fill="#ff0000"/>
<rect x="1011.81" y="405.5" width="8.6" height="5.7" fill="#ff0000"/>
<rect x="1028.30" y="392.0" width="1.2" height="16.0" fill="#008000"/>
<rect x="1024.60" y="403.0" width="8.6" height="5.0" fill="#008000"/>
<rect x="1041.09" y="397.5" width="1.2" height="15.8" fill="#008000"/>
<rect x="1037.39" y="399.7" width="8.6" height="11.5" fill="#008000"/>
<rect x="1053.88" y="394.0" width="1.2" height="22.2" fill="#ff0000"/>
<rect x="1050.18" y="397.5" width="8.6" height="18.7" fill="#ff0000"/>
<rect x="1066.67" y="397.5" width="1.2" height="32.5" fill="#ff0000"/>
<rect x="1062.97" y="413.3" width="8.6" height="16.7" fill="#ff0000"/>
<rect x="1079.46" y="424.7" width="1.2" height="32.0" fill="#ff0000"/>
<rect x="1075.76" y="427.0" width="8.6" height="24.3" fill="#ff0000"/>
<rect x="1092.25" y="435.3" width="1.2" height="21.9" fill="#ff0000"/>
<rect x="1088.55" y="454.5" width="8.6" height="2.7" fill="#ff0000"/>
<rect x="1105.04" y="430.0" width="1.2" height="32.5" fill="#008000"/>
<rect x="1101.34" y="438.3" width="8.6" height="21.7" fill="#008000"/>
<rect x="1117.83" y="429.7" width="1.2" height="67.3" fill="#ff0000"/>
<rect x="1114.13" y="429.7" width="8.6" height="60.0" fill="#ff0000"/>
<rect x="1130.62" y="460.0" width="1.2" height="40.0" fill="#008000"/>
<rect x="1126.92" y="460.0" width="8.6" height="26.7" fill="#008000"/>
<rect x="1143.41" y="454.0" width="1.2" height="21.8" fill="#ff0000"/>
<rect x="1139.71" y="462.5" width="8.6" height="10.8" fill="#ff0000"/>
<rect x="1156.20" y="468.3" width="1.2" height="13.4" fill="#ff0000"/>
<rect x="1152.50" y="470.5" width="8.6" height="2.8" fill="#ff0000"/>
<rect x="1168.99" y="462.5" width="1.2" height="13.8" fill="#008000"/>
<rect x="1165.29" y="464.7" width="8.6" height="11.6" fill="#008000"/>
<rect x="1181.78" y="456.7" width="1.2" height="5.8" fill="#5cd85c"/>
<rect x="1178.08" y="461.9" width="8.6" height="1.2" fill="#5cd85c"/>
<rect x="1194.57" y="400.8" width="1.2" height="61.7" fill="#008000"/>
<rect x="1190.87" y="403.0" width="8.6" height="57.0" fill="#008000"/>
<rect x="1207.36" y="400.3" width="1.2" height="24.7" fill="#ff0000"/>
<rect x="1203.66" y="405.5" width="8.6" height="19.5" fill="#ff0000"/>
<rect x="1216.45" y="425.0" width="8.6" height="2.5" fill="#008000"/>
<rect x="1229.24" y="421.2" width="8.6" height="3.6" fill="#ff0000"/>
<rect x="1245.73" y="424.6" width="1.2" height="10.4" fill="#008000"/>
<rect x="1242.03" y="424.6" width="8.6" height="2.5" fill="#008000"/>
<rect x="1258.52" y="415.7" width="1.2" height="9.1" fill="#ff0000"/>
<rect x="1254.82" y="421.2" width="8.6" height="3.6" fill="#ff0000"/>
<rect x="1271.31" y="397.6" width="1.2" height="24.1" fill="#008000"/>
<rect x="1267.61" y="399.5" width="8.6" height="22.2" fill="#008000"/>
<rect x="1284.10" y="402.9" width="1.2" height="24.1" fill="#ff0000"/>
<rect x="1280.40" y="402.9" width="8.6" height="16.4" fill="#ff0000"/>
<rect x="1293.19" y="415.7" width="8.6" height="9.6" fill="#ff0000"/>
<rect x="1309.68" y="400.0" width="1.2" height="21.7" fill="#008000"/>
<rect x="1305.98" y="402.9" width="8.6" height="18.8" fill="#008000"/>
<rect x="1322.47" y="381.2" width="1.2" height="32.1" fill="#ff0000"/>
<rect x="1318.77" y="399.5" width="8.6" height="3.6" fill="#ff0000"/>
<rect x="1335.26" y="375.9" width="1.2" height="24.1" fill="#008000"/>
<rect x="1331.56" y="378.3" width="8.6" height="21.7" fill="#008000"/>
<rect x="1348.05" y="343.4" width="1.2" height="29.4" fill="#008000"/>
<rect x="1344.35" y="348.7" width="8.6" height="24.1" fill="#008000"/>
<rect x="1360.84" y="318.8" width="1.2" height="31.8" fill="#008000"/>
<rect x="1357.14" y="318.8" width="8.6" height="27.5" fill="#008000"/>
<rect x="1373.63" y="321.7" width="1.2" height="10.8" fill="#ff0000"/>
<rect x="1369.93" y="327.0" width="8.6" height="2.5" fill="#ff0000"/>
<rect x="1386.42" y="302.4" width="1.2" height="54.2" fill="#008000"/>
<rect x="1382.72" y="305.3" width="8.6" height="46.0" fill="#008000"/>
<rect x="1399.21" y="286.3" width="1.2" height="33.0" fill="#5cd85c"/>
<rect x="1395.51" y="301.8" width="8.6" height="1.2" fill="#5cd85c"/>
<rect x="1412.00" y="248.2" width="1.2" height="67.5" fill="#008000"/>
<rect x="1408.30" y="248.2" width="8.6" height="51.3" fill="#008000"/>
<rect x="1424.79" y="226.5" width="1.2" height="24.1" fill="#008000"/>
<rect x="1421.09" y="249.0" width="8.6" height="2.5" fill="#008000"/>
<rect x="1437.58" y="235.0" width="1.2" height="24.0" fill="#ff0000"/>
<rect x="1433.88" y="245.0" width="8.6" height="14.0" fill="#ff0000"/>
<rect x="1450.37" y="262.2" width="1.2" height="21.7" fill="#ff0000"/>
<rect x="1446.67" y="262.2" width="8.6" height="13.8" fill="#ff0000"/>
<rect x="1463.16" y="242.9" width="1.2" height="33.1" fill="#008000"/>
<rect x="1459.46" y="242.9" width="8.6" height="29.9" fill="#008000"/>
<rect x="1475.95" y="237.3" width="1.2" height="11.7" fill="#008000"/>
<rect x="1472.25" y="237.3" width="8.6" height="3.2" fill="#008000"/>
<rect x="1488.74" y="240.5" width="1.2" height="18.5" fill="#ff0000"/>
<rect x="1485.04" y="240.5" width="8.6" height="13.7" fill="#ff0000"/>
<rect x="1501.53" y="237.3" width="1.2" height="16.9" fill="#008000"/>
<rect x="1497.83" y="242.9" width="8.6" height="8.1" fill="#008000"/>
<rect x="1514.32" y="202.4" width="1.2" height="51.8" fill="#008000"/>
<rect x="1510.62" y="210.0" width="8.6" height="35.3" fill="#008000"/>
<rect x="1527.11" y="194.2" width="1.2" height="13.5" fill="#5cd85c"/>
<rect x="1523.41" y="207.1" width="8.6" height="1.2" fill="#5cd85c"/>
<rect x="1539.90" y="183.6" width="1.2" height="21.6" fill="#5cd85c"/>
<rect x="1536.20" y="204.6" width="8.6" height="1.2" fill="#5cd85c"/>
<rect x="1552.69" y="205.2" width="1.2" height="27.6" fill="#008000"/>
<rect x="1548.99" y="205.2" width="8.6" height="8.7" fill="#008000"/>
<rect x="1565.48" y="191.7" width="1.2" height="16.0" fill="#008000"/>
<rect x="1561.78" y="199.4" width="8.6" height="8.3" fill="#008000"/>
<rect x="1578.27" y="183.6" width="1.2" height="43.4" fill="#ff0000"/>
<rect x="1574.57" y="202.3" width="8.6" height="21.8" fill="#ff0000"/>
<rect x="1591.06" y="229.3" width="1.2" height="8.3" fill="#ff0000"/>
<rect x="1587.36" y="229.3" width="8.6" height="3.5" fill="#ff0000"/>
<rect x="1600.15" y="205.2" width="8.6" height="29.9" fill="#008000"/>
<rect x="1616.64" y="178.2" width="1.2" height="29.5" fill="#008000"/>
<rect x="1612.94" y="183.6" width="8.6" height="24.1" fill="#008000"/>
<rect x="1629.43" y="191.7" width="1.2" height="10.6" fill="#008000"/>
<rect x="1625.73" y="191.7" width="8.6" height="5.8" fill="#008000"/>
<rect x="1642.22" y="180.7" width="1.2" height="16.8" fill="#008000"/>
<rect x="1638.52" y="183.6" width="8.6" height="13.9" fill="#008000"/>
<rect x="1655.01" y="183.6" width="1.2" height="13.9" fill="#ff0000"/>
<rect x="1651.31" y="188.5" width="8.6" height="9.0" fill="#ff0000"/>
<rect x="1667.80" y="188.5" width="1.2" height="5.7" fill="#008000"/>
<rect x="1664.10" y="188.5" width="8.6" height="3.2" fill="#008000"/>
<rect x="1680.59" y="131.6" width="1.2" height="65.9" fill="#008000"/>
<rect x="1676.89" y="137.0" width="8.6" height="49.1" fill="#008000"/>
<rect x="1689.68" y="148.3" width="8.6" height="21.8" fill="#ff0000"/>
<rect x="1706.17" y="175.0" width="1.2" height="13.5" fill="#ff0000"/>
<rect x="1702.47" y="175.0" width="8.6" height="5.7" fill="#ff0000"/>
<rect x="1715.26" y="148.3" width="8.6" height="29.9" fill="#008000"/>
<rect x="1731.75" y="150.5" width="1.2" height="3.2" fill="#5cd85c"/>
<rect x="1728.05" y="149.9" width="8.6" height="1.2" fill="#5cd85c"/>
<rect x="1744.54" y="150.9" width="1.2" height="8.1" fill="#ff0000"/>
<rect x="1740.84" y="153.4" width="8.6" height="5.6" fill="#ff0000"/>
<rect x="1757.33" y="153.4" width="1.2" height="5.2" fill="#008000"/>
<rect x="1753.63" y="153.4" width="8.6" height="3.2" fill="#008000"/>
<rect x="1770.12" y="153.4" width="1.2" height="11.3" fill="#008000"/>
<rect x="1766.42" y="153.4" width="8.6" height="3.2" fill="#008000"/>
<rect x="1779.21" y="156.3" width="8.6" height="51.4" fill="#ff0000"/>
<rect x="1795.70" y="207.7" width="1.2" height="29.9" fill="#ff0000"/>
<rect x="1792.00" y="210.0" width="8.6" height="27.6" fill="#ff0000"/>
<rect x="1808.49" y="237.6" width="1.2" height="16.8" fill="#ff0000"/>
<rect x="1804.79" y="240.5" width="8.6" height="13.9" fill="#ff0000"/>
<rect x="1821.28" y="245.7" width="1.2" height="40.5" fill="#ff0000"/>
<rect x="1817.58" y="256.3" width="8.6" height="19.5" fill="#ff0000"/>
<rect x="1834.07" y="273.3" width="1.2" height="16.4" fill="#ff0000"/>
<rect x="1830.37" y="278.1" width="8.6" height="5.8" fill="#ff0000"/>
<rect x="1846.86" y="245.7" width="1.2" height="34.9" fill="#008000"/>
<rect x="1843.16" y="278.1" width="8.6" height="2.5" fill="#008000"/>
<rect x="1855.95" y="275.8" width="8.6" height="4.8" fill="#ff0000"/></g>
<!-- zero line -->
<line x1="5" y1="860" x2="1867" y2="860" stroke="#8a8a8a" stroke-width="1" stroke-dasharray="2.1 2.2"/>
<g clip-path="url(#cind)"><rect x="4.55" y="860.0" width="2.3" height="35.4" fill="#e41010"/>
<rect x="17.34" y="860.0" width="2.3" height="56.5" fill="#e41010"/>
<rect x="30.13" y="860.0" width="2.3" height="56.5" fill="#e41010"/>
<rect x="42.92" y="860.0" width="2.3" height="56.5" fill="#e41010"/>
<rect x="55.71" y="860.0" width="2.3" height="56.5" fill="#e41010"/>
<rect x="68.50" y="860.0" width="2.3" height="86.6" fill="#e41010"/>
<rect x="81.29" y="860.0" width="2.3" height="102.3" fill="#e41010"/>
<rect x="94.08" y="860.0" width="2.3" height="102.3" fill="#e41010"/>
<rect x="106.87" y="860.0" width="2.3" height="102.3" fill="#e41010"/>
<rect x="119.66" y="860.0" width="2.3" height="102.3" fill="#e41010"/>
<rect x="132.45" y="860.0" width="2.3" height="102.3" fill="#e41010"/>
<rect x="145.24" y="860.0" width="2.3" height="105.3" fill="#e41010"/>
<rect x="158.03" y="860.0" width="2.3" height="105.3" fill="#e41010"/>
<rect x="170.82" y="860.0" width="2.3" height="76.0" fill="#f0a020"/>
<rect x="183.61" y="860.0" width="2.3" height="69.5" fill="#f0a020"/>
<rect x="196.40" y="860.0" width="2.3" height="48.4" fill="#f0a020"/>
<rect x="209.19" y="860.0" width="2.3" height="48.4" fill="#e41010"/>
<rect x="221.98" y="860.0" width="2.3" height="32.4" fill="#f0a020"/>
<rect x="234.77" y="860.0" width="2.3" height="32.4" fill="#e41010"/>
<rect x="247.56" y="857.0" width="2.3" height="3.0" fill="#006400"/>
<rect x="260.35" y="829.7" width="2.3" height="30.3" fill="#006400"/>
<rect x="273.14" y="829.7" width="2.3" height="30.3" fill="#006400"/>
<rect x="285.93" y="829.7" width="2.3" height="30.3" fill="#006400"/>
<rect x="298.72" y="827.6" width="2.3" height="32.4" fill="#006400"/>
<rect x="311.51" y="827.6" width="2.3" height="32.4" fill="#33ee33"/>
<rect x="324.30" y="827.6" width="2.3" height="32.4" fill="#006400"/>
<rect x="337.09" y="809.6" width="2.3" height="50.4" fill="#006400"/>
<rect x="349.88" y="809.6" width="2.3" height="50.4" fill="#33ee33"/>
<rect x="362.67" y="809.6" width="2.3" height="50.4" fill="#006400"/>
<rect x="375.46" y="809.6" width="2.3" height="50.4" fill="#006400"/>
<rect x="388.25" y="809.6" width="2.3" height="50.4" fill="#33ee33"/>
<rect x="401.04" y="803.5" width="2.3" height="56.5" fill="#006400"/>
<rect x="413.83" y="779.4" width="2.3" height="80.6" fill="#006400"/>
<rect x="426.62" y="774.3" width="2.3" height="85.7" fill="#006400"/>
<rect x="439.41" y="801.1" width="2.3" height="58.9" fill="#33ee33"/>
<rect x="452.20" y="801.1" width="2.3" height="58.9" fill="#006400"/>
<rect x="464.99" y="779.4" width="2.3" height="80.6" fill="#006400"/>
<rect x="477.78" y="779.4" width="2.3" height="80.6" fill="#006400"/>
<rect x="490.57" y="779.4" width="2.3" height="80.6" fill="#006400"/>
<rect x="503.36" y="779.4" width="2.3" height="80.6" fill="#006400"/>
<rect x="516.15" y="798.1" width="2.3" height="61.9" fill="#33ee33"/>
<rect x="528.94" y="798.1" width="2.3" height="61.9" fill="#006400"/>
<rect x="541.73" y="798.1" width="2.3" height="61.9" fill="#33ee33"/>
<rect x="554.52" y="798.1" width="2.3" height="61.9" fill="#006400"/>
<rect x="567.31" y="798.1" width="2.3" height="61.9" fill="#006400"/>
<rect x="580.10" y="804.1" width="2.3" height="55.9" fill="#33ee33"/>
<rect x="592.89" y="811.7" width="2.3" height="48.3" fill="#33ee33"/>
<rect x="605.68" y="821.6" width="2.3" height="38.4" fill="#33ee33"/>
<rect x="618.47" y="821.6" width="2.3" height="38.4" fill="#006400"/>
<rect x="631.26" y="814.0" width="2.3" height="46.0" fill="#006400"/>
<rect x="644.05" y="824.6" width="2.3" height="35.4" fill="#33ee33"/>
<rect x="656.84" y="732.7" width="2.3" height="127.3" fill="#006400"/>
<rect x="669.63" y="724.6" width="2.3" height="135.4" fill="#006400"/>
<rect x="682.42" y="707.1" width="2.3" height="152.9" fill="#006400"/>
<rect x="695.21" y="707.1" width="2.3" height="152.9" fill="#006400"/>
<rect x="708.00" y="707.1" width="2.3" height="152.9" fill="#006400"/>
<rect x="720.79" y="707.1" width="2.3" height="152.9" fill="#006400"/>
<rect x="733.58" y="707.1" width="2.3" height="152.9" fill="#006400"/>
<rect x="746.37" y="707.1" width="2.3" height="152.9" fill="#006400"/>
<rect x="759.16" y="707.1" width="2.3" height="152.9" fill="#006400"/>
<rect x="771.95" y="722.8" width="2.3" height="137.2" fill="#33ee33"/>
<rect x="784.74" y="722.8" width="2.3" height="137.2" fill="#006400"/>
<rect x="797.53" y="728.8" width="2.3" height="131.2" fill="#33ee33"/>
<rect x="810.32" y="749.3" width="2.3" height="110.7" fill="#33ee33"/>
<rect x="823.11" y="741.8" width="2.3" height="118.2" fill="#006400"/>
<rect x="835.90" y="832.8" width="2.3" height="27.2" fill="#33ee33"/>
<rect x="848.69" y="819.5" width="2.3" height="40.5" fill="#006400"/>
<rect x="861.48" y="851.7" width="2.3" height="8.3" fill="#33ee33"/>
<rect x="874.27" y="851.7" width="2.3" height="8.3" fill="#006400"/>
<rect x="887.06" y="851.7" width="2.3" height="8.3" fill="#006400"/>
<rect x="899.85" y="851.7" width="2.3" height="8.3" fill="#006400"/>
<rect x="912.64" y="851.7" width="2.3" height="8.3" fill="#006400"/>
<rect x="989.38" y="860.0" width="2.3" height="18.9" fill="#e41010"/>
<rect x="1002.17" y="860.0" width="2.3" height="32.4" fill="#e41010"/>
<rect x="1014.96" y="860.0" width="2.3" height="32.4" fill="#e41010"/>
<rect x="1027.75" y="860.0" width="2.3" height="32.4" fill="#e41010"/>
<rect x="1040.54" y="860.0" width="2.3" height="32.4" fill="#e41010"/>
<rect x="1053.33" y="860.0" width="2.3" height="34.8" fill="#e41010"/>
<rect x="1066.12" y="860.0" width="2.3" height="34.8" fill="#e41010"/>
<rect x="1078.91" y="860.0" width="2.3" height="34.8" fill="#f0a020"/>
<rect x="1091.70" y="860.0" width="2.3" height="34.8" fill="#e41010"/>
<rect x="1104.49" y="860.0" width="2.3" height="34.8" fill="#e41010"/>
<rect x="1117.28" y="860.0" width="2.3" height="48.1" fill="#e41010"/>
<rect x="1130.07" y="860.0" width="2.3" height="75.5" fill="#e41010"/>
<rect x="1142.86" y="860.0" width="2.3" height="75.5" fill="#e41010"/>
<rect x="1155.65" y="860.0" width="2.3" height="75.5" fill="#e41010"/>
<rect x="1168.44" y="860.0" width="2.3" height="57.1" fill="#f0a020"/>
<rect x="1181.23" y="860.0" width="2.3" height="46.0" fill="#f0a020"/>
<rect x="1194.02" y="860.0" width="2.3" height="46.0" fill="#e41010"/>
<rect x="1206.81" y="860.0" width="2.3" height="48.1" fill="#e41010"/>
<rect x="1219.60" y="860.0" width="2.3" height="50.5" fill="#e41010"/>
<rect x="1232.39" y="860.0" width="2.3" height="48.1" fill="#f0a020"/>
<rect x="1245.18" y="860.0" width="2.3" height="48.1" fill="#e41010"/>
<rect x="1257.97" y="860.0" width="2.3" height="48.1" fill="#e41010"/>
<rect x="1270.76" y="860.0" width="2.3" height="46.0" fill="#f0a020"/>
<rect x="1283.55" y="860.0" width="2.3" height="24.9" fill="#f0a020"/>
<rect x="1296.34" y="860.0" width="2.3" height="12.8" fill="#f0a020"/>
<rect x="1309.13" y="841.2" width="2.3" height="18.8" fill="#006400"/>
<rect x="1321.92" y="821.6" width="2.3" height="38.4" fill="#006400"/>
<rect x="1334.71" y="821.6" width="2.3" height="38.4" fill="#006400"/>
<rect x="1347.50" y="795.4" width="2.3" height="64.6" fill="#006400"/>
<rect x="1360.29" y="795.4" width="2.3" height="64.6" fill="#006400"/>
<rect x="1373.08" y="795.4" width="2.3" height="64.6" fill="#006400"/>
<rect x="1385.87" y="795.4" width="2.3" height="64.6" fill="#33ee33"/>
<rect x="1398.66" y="787.6" width="2.3" height="72.4" fill="#006400"/>
<rect x="1411.45" y="787.6" width="2.3" height="72.4" fill="#006400"/>
<rect x="1424.24" y="787.6" width="2.3" height="72.4" fill="#33ee33"/>
<rect x="1437.03" y="784.5" width="2.3" height="75.5" fill="#006400"/>
<rect x="1449.82" y="782.4" width="2.3" height="77.6" fill="#006400"/>
<rect x="1462.61" y="792.1" width="2.3" height="67.9" fill="#33ee33"/>
<rect x="1475.40" y="779.4" width="2.3" height="80.6" fill="#006400"/>
<rect x="1488.19" y="758.3" width="2.3" height="101.7" fill="#006400"/>
<rect x="1500.98" y="754.7" width="2.3" height="105.3" fill="#006400"/>
<rect x="1513.77" y="754.7" width="2.3" height="105.3" fill="#006400"/>
<rect x="1526.56" y="781.5" width="2.3" height="78.5" fill="#33ee33"/>
<rect x="1539.35" y="744.2" width="2.3" height="115.8" fill="#006400"/>
<rect x="1552.14" y="741.7" width="2.3" height="118.3" fill="#006400"/>
<rect x="1564.93" y="709.2" width="2.3" height="150.8" fill="#006400"/>
<rect x="1577.72" y="717.0" width="2.3" height="143.0" fill="#33ee33"/>
<rect x="1590.51" y="717.0" width="2.3" height="143.0" fill="#006400"/>
<rect x="1603.30" y="709.2" width="2.3" height="150.8" fill="#006400"/>
<rect x="1616.09" y="695.7" width="2.3" height="164.3" fill="#006400"/>
<rect x="1628.88" y="699.0" width="2.3" height="161.0" fill="#33ee33"/>
<rect x="1641.67" y="701.1" width="2.3" height="158.9" fill="#33ee33"/>
<rect x="1654.46" y="715.2" width="2.3" height="144.8" fill="#33ee33"/>
<rect x="1667.25" y="725.8" width="2.3" height="134.2" fill="#33ee33"/>
<rect x="1680.04" y="741.1" width="2.3" height="118.9" fill="#33ee33"/>
<rect x="1692.83" y="741.1" width="2.3" height="118.9" fill="#006400"/>
<rect x="1705.62" y="741.1" width="2.3" height="118.9" fill="#006400"/>
<rect x="1718.41" y="779.4" width="2.3" height="80.6" fill="#33ee33"/>
<rect x="1731.20" y="781.8" width="2.3" height="78.2" fill="#33ee33"/>
<rect x="1743.99" y="811.0" width="2.3" height="49.0" fill="#33ee33"/>
<rect x="1756.78" y="784.5" width="2.3" height="75.5" fill="#006400"/>
<rect x="1769.57" y="779.4" width="2.3" height="80.6" fill="#006400"/>
<rect x="1782.36" y="793.0" width="2.3" height="67.0" fill="#33ee33"/>
<rect x="1795.15" y="838.1" width="2.3" height="21.9" fill="#33ee33"/>
<rect x="1807.94" y="853.8" width="2.3" height="6.2" fill="#33ee33"/>
<rect x="1833.52" y="860.0" width="2.3" height="16.4" fill="#e41010"/>
<rect x="1846.31" y="860.0" width="2.3" height="16.4" fill="#e41010"/>
<rect x="1859.10" y="860.0" width="2.3" height="16.4" fill="#e41010"/>
<polyline points="5.7,895.4 18.5,916.5 31.3,916.5 44.1,916.5 56.9,916.5 69.6,946.6 82.4,962.3 95.2,962.3 108.0,962.3 120.8,962.3 133.6,962.3 146.4,965.3 159.2,965.3 172.0,936.0 184.8,929.5 197.5,908.4 210.3,908.4 223.1,892.4 235.9,892.4 248.7,857.0 261.5,829.7 274.3,829.7 287.1,829.7 299.9,827.6 312.7,827.6 325.4,827.6 338.2,809.6 351.0,809.6 363.8,809.6 376.6,809.6 389.4,809.6 402.2,803.5 415.0,779.4 427.8,774.3 440.6,801.1 453.3,801.1 466.1,779.4 478.9,779.4 491.7,779.4 504.5,779.4 517.3,798.1 530.1,798.1 542.9,798.1 555.7,798.1 568.5,798.1 581.2,804.1 594.0,811.7 606.8,821.6 619.6,821.6 632.4,814.0 645.2,824.6 658.0,732.7 670.8,724.6 683.6,707.1 696.4,707.1 709.1,707.1 721.9,707.1 734.7,707.1 747.5,707.1 760.3,707.1 773.1,722.8 785.9,722.8 798.7,728.8 811.5,749.3 824.3,741.8 837.0,832.8 849.8,819.5 862.6,851.7 875.4,851.7 888.2,851.7 901.0,851.7 913.8,851.7 926.6,860.0 939.4,860.0 952.2,860.0 964.9,860.0 977.7,860.0 990.5,878.9 1003.3,892.4 1016.1,892.4 1028.9,892.4 1041.7,892.4 1054.5,894.8 1067.3,894.8 1080.1,894.8 1092.8,894.8 1105.6,894.8 1118.4,908.1 1131.2,935.5 1144.0,935.5 1156.8,935.5 1169.6,917.1 1182.4,906.0 1195.2,906.0 1208.0,908.1 1220.8,910.5 1233.5,908.1 1246.3,908.1 1259.1,908.1 1271.9,906.0 1284.7,884.9 1297.5,872.8 1310.3,841.2 1323.1,821.6 1335.9,821.6 1348.6,795.4 1361.4,795.4 1374.2,795.4 1387.0,795.4 1399.8,787.6 1412.6,787.6 1425.4,787.6 1438.2,784.5 1451.0,782.4 1463.8,792.1 1476.5,779.4 1489.3,758.3 1502.1,754.7 1514.9,754.7 1527.7,781.5 1540.5,744.2 1553.3,741.7 1566.1,709.2 1578.9,717.0 1591.7,717.0 1604.5,709.2 1617.2,695.7 1630.0,699.0 1642.8,701.1 1655.6,715.2 1668.4,725.8 1681.2,741.1 1694.0,741.1 1706.8,741.1 1719.6,779.4 1732.3,781.8 1745.1,811.0 1757.9,784.5 1770.7,779.4 1783.5,793.0 1796.3,838.1 1809.1,853.8 1821.9,860.0 1834.7,876.4 1847.5,876.4 1860.2,876.4" fill="none" stroke="#8a8a8a" stroke-width="0.9"/></g>
<path d="M248 889.5 L245 892.5 M248 889.5 L251 892.5 M248 889.5 L248 896.5" stroke="#22bb22" stroke-width="1.5" fill="none"/>
<path d="M1310 869.5 L1307 872.5 M1310 869.5 L1313 872.5 M1310 869.5 L1310 876.5" stroke="#22bb22" stroke-width="1.5" fill="none"/>
<path d="M926 853.5 L923 850.5 M926 853.5 L929 850.5 M926 853.5 L926 846.5" stroke="#ee1111" stroke-width="1.5" fill="none"/>
<path d="M1822 856.5 L1819 853.5 M1822 856.5 L1825 853.5 M1822 856.5 L1822 849.5" stroke="#ee1111" stroke-width="1.5" fill="none"/>
<rect x="208.5" y="827.5" width="80" height="93" rx="3.5" fill="none" stroke="url(#bx1)" stroke-width="3.5"/>
<rect x="1273" y="831" width="78" height="72.5" rx="7" fill="none" stroke="url(#bx1)" stroke-width="3.5"/>
<text x="19.5" y="93.8" class="ax" textLength="51" lengthAdjust="spacingAndGlyphs">GBPUSD,M1</text>
<text x="77.8" y="93.8" class="ax" textLength="156.4" lengthAdjust="spacingAndGlyphs">1.33791 1.33792 1.33765 1.33765</text>
<path d="M8 87 L14 87 L11 91 Z" fill="#111"/>
<text x="9" y="693.8" class="ax" textLength="334.7" lengthAdjust="spacingAndGlyphs">Tenkan Sen Kijun Sen Histogram Alerts Arrows MT4 by TFlab 0.0002 0.0002</text>
<text x="502" y="654.5" class="big" textLength="539" lengthAdjust="spacingAndGlyphs">Yeşil ok belirir ve yükseliş trendi başlar</text>
</svg>
<div class="abs" style="left:0;top:0;width:1.3px;height:996px;background:#0c1f24"></div>
<div class="abs" style="left:1.3px;top:0;width:1.4px;height:996px;background:#9aa6a8"></div>
</body></html>
